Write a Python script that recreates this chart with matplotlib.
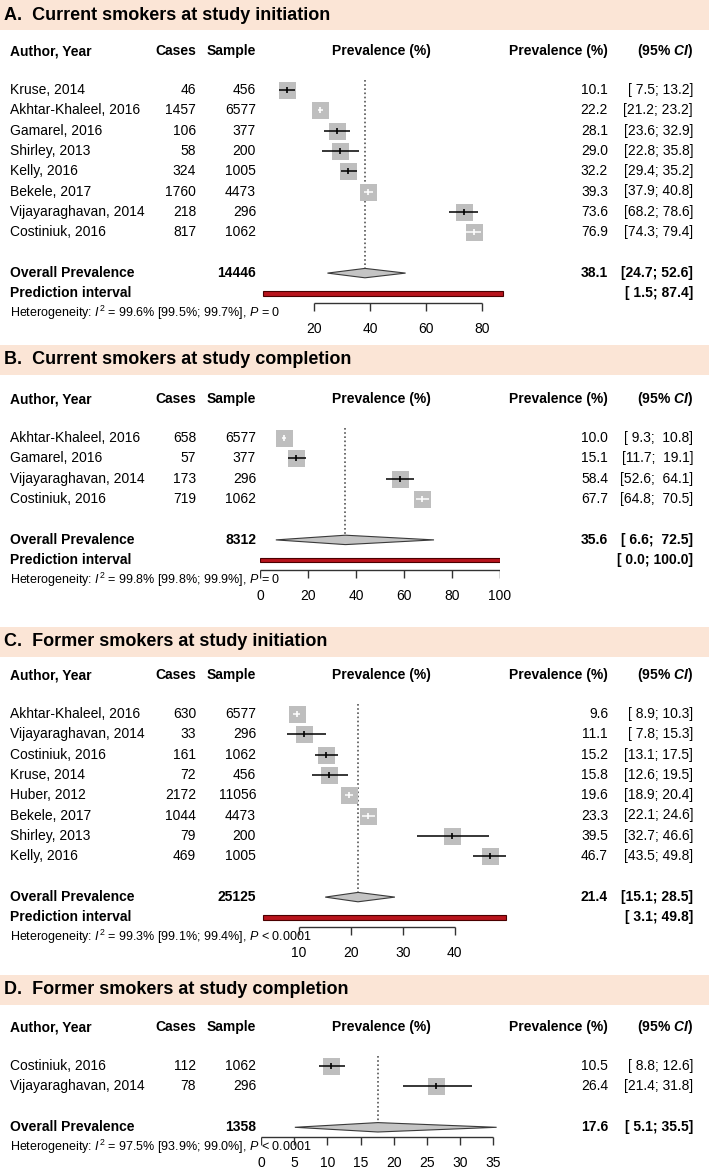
import matplotlib.pyplot as plt
from matplotlib.patches import Rectangle, Polygon

plt.rcParams['font.family'] = ['Liberation Sans', 'DejaVu Sans']
plt.rcParams['mathtext.fontset'] = 'custom'
plt.rcParams['mathtext.rm'] = 'Liberation Sans'
plt.rcParams['mathtext.it'] = 'Liberation Sans:italic'
plt.rcParams['mathtext.bf'] = 'Liberation Sans:bold:italic'

# ---- data ----
a_title = "A.  Current smokers at study initiation"
a_authors = ["Kruse, 2014", "Akhtar-Khaleel, 2016", "Gamarel, 2016", "Shirley, 2013",
             "Kelly, 2016", "Bekele, 2017", "Vijayaraghavan, 2014", "Costiniuk, 2016"]
a_cases = [46, 1457, 106, 58, 324, 1760, 218, 817]
a_sample = [456, 6577, 377, 200, 1005, 4473, 296, 1062]
a_est = [10.1, 22.2, 28.1, 29.0, 32.2, 39.3, 73.6, 76.9]
a_lo = [7.5, 21.2, 23.6, 22.8, 29.4, 37.9, 68.2, 74.3]
a_hi = [13.2, 23.2, 32.9, 35.8, 35.2, 40.8, 78.6, 79.4]
a_total = 14446
a_overall = (38.1, 24.7, 52.6)
a_pred = (1.5, 87.4)
a_het = "Heterogeneity: $I^2$ = 99.6% [99.5%; 99.7%], $P$ = 0"
a_ticks = [20, 40, 60, 80]

b_title = "B.  Current smokers at study completion"
b_authors = ["Akhtar-Khaleel, 2016", "Gamarel, 2016", "Vijayaraghavan, 2014", "Costiniuk, 2016"]
b_cases = [658, 57, 173, 719]
b_sample = [6577, 377, 296, 1062]
b_est = [10.0, 15.1, 58.4, 67.7]
b_lo = [9.3, 11.7, 52.6, 64.8]
b_hi = [10.8, 19.1, 64.1, 70.5]
b_total = 8312
b_overall = (35.6, 6.6, 72.5)
b_pred = (0.0, 100.0)
b_het = "Heterogeneity: $I^2$ = 99.8% [99.8%; 99.9%], $P$ = 0"
b_ticks = [0, 20, 40, 60, 80, 100]

c_title = "C.  Former smokers at study initiation"
c_authors = ["Akhtar-Khaleel, 2016", "Vijayaraghavan, 2014", "Costiniuk, 2016", "Kruse, 2014",
             "Huber, 2012", "Bekele, 2017", "Shirley, 2013", "Kelly, 2016"]
c_cases = [630, 33, 161, 72, 2172, 1044, 79, 469]
c_sample = [6577, 296, 1062, 456, 11056, 4473, 200, 1005]
c_est = [9.6, 11.1, 15.2, 15.8, 19.6, 23.3, 39.5, 46.7]
c_lo = [8.9, 7.8, 13.1, 12.6, 18.9, 22.1, 32.7, 43.5]
c_hi = [10.3, 15.3, 17.5, 19.5, 20.4, 24.6, 46.6, 49.8]
c_total = 25125
c_overall = (21.4, 15.1, 28.5)
c_pred = (3.1, 49.8)
c_het = "Heterogeneity: $I^2$ = 99.3% [99.1%; 99.4%], $P$ < 0.0001"
c_ticks = [10, 20, 30, 40]

d_title = "D.  Former smokers at study completion"
d_authors = ["Costiniuk, 2016", "Vijayaraghavan, 2014"]
d_cases = [112, 78]
d_sample = [1062, 296]
d_est = [10.5, 26.4]
d_lo = [8.8, 21.4]
d_hi = [12.6, 31.8]
d_total = 1358
d_overall = (17.6, 5.1, 35.5)
d_pred = None
d_het = "Heterogeneity: $I^2$ = 97.5% [93.9%; 99.0%], $P$ < 0.0001"
d_ticks = [0, 5, 10, 15, 20, 25, 30, 35]

# ---- layout (pixels) ----
W, H = 709, 1169
BAND = '#FBE5D6'
SQ = '#BEBEBE'
STEP = 20.3
FS = 10


def fmt_ci(lo, hi, lo_w, hi_w):
    return f"[{lo:>{lo_w}.1f}; {hi:>{hi_w}.1f}]"


def draw_panel(fig, bg, title, authors, cases, sample, est, lo, hi, total, overall,
               pred, het, ticks, band_top, first_row, x0, ppu, xmax):
    # header band + title
    bg.add_patch(Rectangle((0, band_top), W, 30, color=BAND, lw=0))
    bg.text(4, band_top + 15, title, fontsize=13, fontweight='bold', va='center')

    hy = first_row - 39
    bg.text(10, hy, "Author, Year", fontsize=FS, fontweight='bold', va='center')
    bg.text(196, hy, "Cases", fontsize=FS, fontweight='bold', va='center', ha='right')
    bg.text(256, hy, "Sample", fontsize=FS, fontweight='bold', va='center', ha='right')
    bg.text(381, hy, "Prevalence (%)", fontsize=FS, fontweight='bold', va='center', ha='center')
    bg.text(608, hy, "Prevalence (%)", fontsize=FS, fontweight='bold', va='center', ha='right')
    bg.text(693, hy, "(95% $\\mathbf{CI}$)", fontsize=FS, fontweight='bold', va='center', ha='right')

    all_lo = list(lo) + [overall[1]] + ([pred[0]] if pred else [])
    all_hi = list(hi) + [overall[2]] + ([pred[1]] if pred else [])
    lo_w = max(len(f"{v:.1f}") for v in all_lo)
    hi_w = max(len(f"{v:.1f}") for v in all_hi)

    fa = fig.add_axes([x0 / W, 0, xmax * ppu / W, 1])
    fa.set_xlim(0, xmax)
    fa.set_ylim(H, 0)
    fa.axis('off')
    fa.patch.set_alpha(0)

    ys = [first_row + i * STEP for i in range(len(authors))]
    for i, y in enumerate(ys):
        bg.text(10, y, authors[i], fontsize=FS, va='center')
        bg.text(196, y, str(cases[i]), fontsize=FS, va='center', ha='right')
        bg.text(256, y, str(sample[i]), fontsize=FS, va='center', ha='right')
        bg.text(608, y, f"{est[i]:.1f}", fontsize=FS, va='center', ha='right')
        bg.text(693, y, fmt_ci(lo[i], hi[i], lo_w, hi_w), fontsize=FS, va='center', ha='right')

        fa.scatter([est[i]], [y], marker='s', s=(17 * 0.72) ** 2, color=SQ, lw=0, zorder=2)
        col = 'white' if (hi[i] - lo[i]) * ppu < 15 else 'black'
        fa.hlines(y, lo[i], hi[i], color=col, lw=1.1, zorder=3)
        fa.plot([est[i]], [y], marker='|', ms=5, mew=1.2, color=col, zorder=4)

    oy = ys[-1] + 41
    bg.text(10, oy, "Overall Prevalence", fontsize=FS, fontweight='bold', va='center')
    bg.text(256, oy, str(total), fontsize=FS, fontweight='bold', va='center', ha='right')
    bg.text(608, oy, f"{overall[0]:.1f}", fontsize=FS, fontweight='bold', va='center', ha='right')
    bg.text(693, oy, fmt_ci(overall[1], overall[2], lo_w, hi_w), fontsize=FS,
            fontweight='bold', va='center', ha='right')
    e, l, h = overall
    fa.add_patch(Polygon([[l, oy], [e, oy - 4.7], [h, oy], [e, oy + 4.7]], closed=True,
                         fc='#C4C4C4', ec='#3a3a3a', lw=0.8, zorder=3))
    fa.vlines(e, first_row - 10, oy - 4.7, color='#555555', lw=1.2, linestyles=(0, (1, 1.5)),
              zorder=1)

    last = oy
    if pred:
        py = oy + 20
        bg.text(10, py, "Prediction interval", fontsize=FS, fontweight='bold', va='center')
        bg.text(693, py, fmt_ci(pred[0], pred[1], lo_w, hi_w), fontsize=FS,
                fontweight='bold', va='center', ha='right')
        fa.add_patch(Rectangle((pred[0], py - 2.4), pred[1] - pred[0], 4.8,
                               fc='#B8141C', ec='#4a0000', lw=0.8, zorder=3))
        last = py

    ay = last + 10
    bg.text(10, last + 20, het, fontsize=9, va='center')
    fa.hlines(ay, ticks[0], ticks[-1], color='#333333', lw=1)
    fa.vlines(ticks, ay, ay + 8, color='#333333', lw=1)
    for t in ticks:
        fa.text(t, ay + 26, str(t), fontsize=FS, ha='center', va='center')


fig = plt.figure(figsize=(W / 100, H / 100), dpi=100)
bg = fig.add_axes([0, 0, 1, 1])
bg.set_xlim(0, W)
bg.set_ylim(H, 0)
bg.axis('off')

draw_panel(fig, bg, a_title, a_authors, a_cases, a_sample, a_est, a_lo, a_hi, a_total,
           a_overall, a_pred, a_het, a_ticks, 0, 90, 258.3, 2.8, 100)
draw_panel(fig, bg, b_title, b_authors, b_cases, b_sample, b_est, b_lo, b_hi, b_total,
           b_overall, b_pred, b_het, b_ticks, 345, 438, 260, 2.4, 100)
draw_panel(fig, bg, c_title, c_authors, c_cases, c_sample, c_est, c_lo, c_hi, c_total,
           c_overall, c_pred, c_het, c_ticks, 627, 714, 246.7, 5.2, 60)
draw_panel(fig, bg, d_title, d_authors, d_cases, d_sample, d_est, d_lo, d_hi, d_total,
           d_overall, d_pred, d_het, d_ticks, 975, 1066, 261, 6.637, 40)

fig.savefig('out.png', dpi=100)
